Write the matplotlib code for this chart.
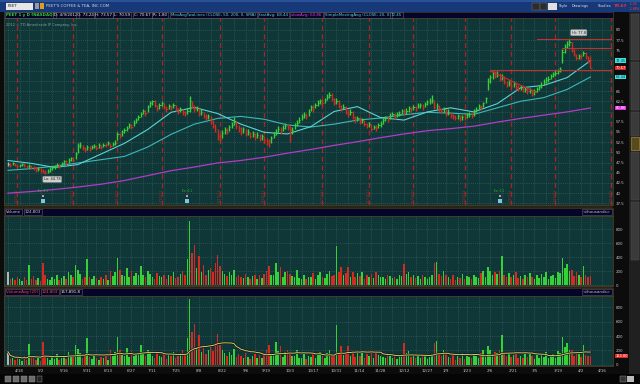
"""PEET 1 year daily chart, drawn in the thinkorswim dark style."""
import matplotlib
matplotlib.use("Agg")
import matplotlib.pyplot as plt
import matplotlib.transforms as mtransforms
import numpy as np
import pandas as pd
from matplotlib import font_manager
from matplotlib.patches import Rectangle

W, H = 640, 384

# trading calendar (bars are drawn by trading-day index)
START, END = "2011-04-11", "2012-04-20"
HOLIDAYS = ["2011-04-22", "2011-05-30", "2011-07-04", "2011-09-05", "2011-11-24",
            "2011-12-26", "2012-01-02", "2012-01-16", "2012-02-20", "2012-04-06"]

CLOSE = [
    47.2, 46.9, 47.3, 47.0, 46.6, 46.8, 47.1, 46.9, 46.5, 46.7,
    46.4, 46.2, 45.8, 46.0, 45.5, 45.3, 45.0, 45.4, 45.9, 46.2,
    46.5, 46.9, 46.6, 47.3, 47.8, 47.5, 48.1, 48.5, 48.2, 49.6,
    51.5, 51.8, 51.0, 50.6, 51.2, 50.9, 51.4, 51.5, 51.1, 51.7,
    51.3, 51.9, 51.8, 52.3, 51.6, 52.0, 52.4, 54.5, 54.1, 54.9,
    55.5, 55.9, 56.6, 56.2, 57.3, 58.0, 58.6, 59.5, 60.1, 59.6,
    61.0, 62.0, 62.5, 61.6, 60.8, 61.5, 62.0, 61.2, 60.5, 61.3,
    61.0, 61.6, 60.9, 60.0, 60.6, 59.8, 59.5, 60.2, 62.5, 61.5,
    60.5, 60.9, 59.6, 59.9, 59.0, 58.5, 58.8, 57.6, 56.5, 55.8,
    54.0, 53.2, 54.8, 55.5, 55.1, 56.2, 56.8, 57.5, 56.4, 55.9,
    55.0, 55.6, 54.5, 54.9, 54.0, 54.6, 53.8, 54.3, 53.5, 53.9,
    53.1, 52.7, 52.5, 53.6, 54.3, 55.0, 55.8, 55.2, 56.0, 56.5,
    56.2, 55.4, 55.5, 56.6, 57.2, 58.0, 58.7, 59.2, 58.8, 60.0,
    61.0, 60.6, 61.5, 62.1, 62.5, 62.0, 62.9, 63.5, 64.0, 63.1,
    62.0, 62.6, 61.4, 60.8, 61.2, 60.0, 59.4, 59.9, 58.7, 58.0,
    58.4, 57.6, 57.9, 57.0, 56.5, 56.9, 55.8, 56.2, 55.9, 56.6,
    57.0, 57.8, 58.3, 58.0, 59.0, 59.4, 58.8, 59.3, 59.5, 60.1,
    59.7, 60.2, 60.8, 60.5, 61.1, 60.7, 61.4, 61.5, 61.0, 61.9,
    62.3, 62.5, 62.9, 61.0, 61.4, 60.6, 60.2, 60.5, 59.5, 59.9,
    59.1, 58.8, 58.5, 58.9, 58.3, 58.7, 58.5, 59.1, 59.4, 59.0,
    60.0, 60.6, 61.2, 61.0, 62.0, 63.2, 67.5, 68.4, 69.5, 68.8,
    69.2, 68.0, 68.5, 67.2, 66.5, 67.0, 66.2, 66.8, 66.0, 65.6,
    66.1, 65.4, 65.5, 65.0, 65.3, 64.5, 64.9, 65.6, 66.0, 66.6,
    67.3, 67.8, 68.0, 68.7, 69.1, 69.5, 69.8, 70.5, 74.5, 75.8,
    76.5, 77.0, 75.0, 74.2, 73.0, 73.6, 73.5, 74.3, 73.5, 72.4,
    70.67,
]

HIGH = [
    47.6, 47.4, 47.6, 47.5, 47.2, 47.1, 47.5, 47.3, 47.0, 47.1,
    46.9, 46.7, 46.4, 46.4, 46.1, 45.8, 45.6, 45.8, 46.3, 46.6,
    46.9, 47.3, 47.1, 47.7, 48.2, 48.0, 48.5, 48.9, 48.7, 50.2,
    52.4, 52.6, 51.9, 51.3, 51.7, 51.5, 51.9, 52.1, 51.7, 52.2,
    51.9, 52.3, 52.3, 52.8, 52.2, 52.5, 52.9, 55.0, 54.8, 55.4,
    56.0, 56.4, 57.1, 56.9, 57.8, 58.5, 59.2, 60.0, 60.7, 60.3,
    61.5, 62.5, 62.9, 62.8, 61.7, 62.0, 62.6, 62.1, 61.3, 61.8,
    61.7, 62.0, 61.6, 60.9, 61.1, 60.6, 60.1, 60.8, 63.8, 62.6,
    61.5, 61.4, 60.8, 60.5, 60.0, 59.4, 59.5, 58.8, 57.9, 56.9,
    55.6, 54.6, 55.4, 56.1, 55.9, 56.8, 57.4, 58.7, 57.6, 56.7,
    56.1, 56.1, 55.6, 55.6, 55.0, 55.2, 54.7, 55.0, 54.4, 54.5,
    54.1, 53.6, 53.2, 54.0, 54.9, 55.6, 56.5, 56.3, 56.6, 57.3,
    57.0, 56.4, 56.2, 57.1, 57.8, 58.6, 59.3, 59.8, 59.7, 60.5,
    61.6, 61.5, 62.0, 62.7, 63.1, 63.0, 63.4, 64.2, 64.8, 64.5,
    63.4, 63.2, 62.8, 61.7, 61.8, 61.3, 60.3, 60.5, 60.1, 59.0,
    59.0, 58.6, 58.5, 58.0, 57.3, 57.5, 57.0, 56.8, 56.6, 57.1,
    57.6, 58.3, 58.9, 58.8, 59.6, 60.0, 59.7, 59.8, 60.1, 60.7,
    60.5, 60.8, 61.3, 61.2, 61.7, 61.4, 62.0, 62.1, 61.8, 62.4,
    62.9, 63.2, 64.0, 62.8, 62.0, 61.5, 60.9, 61.1, 60.6, 60.5,
    60.0, 59.5, 59.2, 59.4, 59.1, 59.2, 59.1, 59.6, 60.0, 59.8,
    60.5, 61.1, 61.8, 61.7, 62.4, 63.6, 68.2, 69.0, 70.0, 69.9,
    69.8, 69.4, 69.1, 68.7, 67.5, 67.6, 67.2, 67.4, 67.0, 66.5,
    66.6, 66.3, 66.1, 65.7, 65.8, 65.4, 65.5, 66.1, 66.5, 67.2,
    67.9, 68.4, 68.6, 69.3, 69.6, 70.1, 70.3, 71.0, 75.2, 76.6,
    77.2, 77.8, 76.9, 75.3, 74.2, 74.1, 74.2, 74.8, 74.5, 73.6,
    73.57,
]

LOW = [
    46.7, 46.5, 46.8, 46.6, 46.2, 46.3, 46.6, 46.4, 46.1, 46.2,
    46.0, 45.7, 45.3, 45.5, 45.1, 44.9, 44.78, 45.0, 45.3, 45.7,
    46.0, 46.3, 46.1, 46.7, 47.2, 47.0, 47.5, 47.9, 47.7, 48.3,
    49.8, 51.0, 50.5, 50.0, 50.6, 50.4, 50.8, 51.0, 50.6, 51.1,
    50.8, 51.2, 51.2, 51.7, 51.1, 51.5, 51.9, 53.0, 53.6, 54.0,
    54.8, 55.2, 55.9, 55.7, 56.5, 57.3, 58.0, 58.7, 59.4, 59.0,
    59.8, 61.0, 61.7, 61.0, 60.2, 60.6, 61.3, 60.6, 59.8, 60.5,
    60.4, 60.9, 60.2, 59.4, 59.9, 59.2, 58.9, 59.4, 60.0, 60.9,
    60.0, 60.1, 59.0, 59.2, 58.5, 57.9, 58.1, 57.0, 55.9, 55.0,
    53.1, 52.3, 53.5, 54.6, 54.4, 55.3, 56.0, 56.7, 55.8, 55.1,
    54.3, 54.8, 53.9, 54.2, 53.4, 53.8, 53.1, 53.6, 52.8, 53.1,
    52.3, 51.8, 51.3, 52.4, 53.5, 54.2, 55.0, 54.6, 55.2, 55.8,
    55.4, 52.5, 54.6, 55.6, 56.4, 57.2, 57.9, 58.5, 58.1, 58.9,
    60.2, 60.0, 60.8, 61.4, 61.8, 61.4, 62.2, 62.8, 63.2, 62.6,
    61.5, 61.8, 60.9, 60.1, 60.5, 59.3, 58.7, 59.2, 58.1, 57.3,
    57.6, 57.0, 57.2, 56.4, 55.9, 56.2, 55.2, 55.6, 55.2, 55.9,
    56.3, 57.0, 57.7, 57.4, 58.2, 58.8, 58.2, 58.6, 58.9, 59.4,
    59.1, 59.5, 60.0, 59.9, 60.4, 60.1, 60.8, 60.9, 60.4, 61.1,
    61.6, 61.8, 62.0, 60.6, 60.7, 60.0, 59.6, 59.8, 58.9, 59.2,
    58.5, 58.1, 57.8, 58.2, 57.6, 58.0, 57.8, 58.4, 58.7, 58.4,
    58.9, 59.8, 60.5, 60.4, 61.1, 62.0, 65.3, 66.9, 68.0, 68.1,
    68.4, 67.5, 67.7, 66.8, 65.9, 66.2, 65.6, 66.0, 65.2, 64.9,
    65.2, 64.8, 64.8, 64.3, 64.6, 63.9, 64.1, 64.8, 65.3, 65.8,
    66.5, 67.1, 67.3, 68.0, 68.5, 68.8, 69.2, 69.7, 71.8, 74.3,
    75.6, 76.0, 74.6, 73.6, 72.5, 72.8, 72.9, 73.5, 72.9, 71.9,
    70.59,
]

# daily volume, thousands of shares
VOLUME = [
    185, 80, 95, 70, 110, 85, 60, 120, 75, 285,
    90, 130, 70, 105, 60, 315, 140, 90, 75, 120,
    85, 150, 70, 95, 130, 80, 180, 140, 110, 280,
    220, 160, 90, 120, 370, 110, 85, 130, 95, 75,
    110, 90, 150, 70, 200, 130, 180, 385, 210, 140,
    130, 240, 110, 195, 130, 170, 150, 270, 150, 120,
    200, 160, 120, 90, 175, 130, 110, 150, 80, 140,
    130, 180, 95, 120, 160, 200, 150, 370, 915, 460,
    570, 250, 415, 180, 280, 150, 210, 250, 190, 310,
    430, 270, 200, 160, 130, 180, 140, 220, 110, 150,
    120, 95, 160, 110, 80, 130, 150, 90, 140, 100,
    160, 200, 270, 140, 150, 320, 190, 260, 110, 180,
    200, 160, 130, 120, 210, 100, 90, 150, 80, 120,
    110, 170, 90, 140, 180, 120, 100, 160, 200, 130,
    150, 555, 180, 260, 140, 170, 260, 120, 190, 110,
    170, 130, 180, 90, 150, 120, 160, 100, 180, 140,
    120, 110, 90, 150, 130, 100, 120, 80, 140, 130,
    300, 160, 190, 110, 140, 100, 130, 90, 150, 120,
    80, 110, 150, 310, 330, 160, 130, 200, 150, 110,
    90, 140, 70, 120, 100, 160, 80, 130, 110, 90,
    150, 120, 100, 170, 200, 110, 260, 200, 150, 180,
    160, 200, 415, 150, 120, 170, 110, 140, 180, 100,
    130, 90, 150, 110, 170, 120, 80, 140, 100, 160,
    110, 180, 90, 130, 150, 100, 190, 170, 385, 250,
    300, 200, 210, 130, 180, 150, 110, 270, 140, 120,
    124.8,
]

# moving averages, one value every 10 bars
MA_STEP = 10
SMA20 = [48.0, 47.3, 46.3, 47.0, 49.6, 52.2, 55.6, 59.8, 61.0, 59.5, 56.9, 54.9, 54.5,
         56.3, 60.0, 61.2, 58.5, 57.9, 59.9, 60.9, 59.9, 61.9, 65.8, 66.4, 68.3, 72.45]
SMA50 = [45.6, 46.0, 46.6, 47.4, 48.2, 49.0, 51.3, 54.4, 56.9, 58.3, 58.8, 58.1, 56.7,
         56.2, 56.9, 57.9, 58.4, 59.2, 59.8, 59.6, 59.3, 60.9, 62.5, 63.4, 65.4, 68.44]
SMA200 = [40.0, 40.4, 40.9, 41.5, 42.2, 43.1, 44.3, 45.5, 46.4, 47.4, 48.0, 48.8, 49.8,
          50.7, 51.7, 52.6, 53.6, 54.5, 55.3, 55.8, 56.4, 57.4, 58.3, 59.1, 59.9, 60.86]

EXPIRIES = ["2011-04-15", "2011-05-20", "2011-06-17", "2011-07-15", "2011-08-19",
            "2011-09-16", "2011-10-21", "2011-11-18", "2011-12-16", "2012-01-20",
            "2012-02-17", "2012-03-16", "2012-04-20"]
EVENTS = ["2011-05-03", "2011-08-01", "2012-02-10"]

# user drawings on the price panel: (start date, start price, end date, end price)
DRAWINGS = [
    ("2012-02-06", 70.2, "2012-04-20", 70.2),
    ("2012-02-06", 69.9, "2012-03-06", 64.6),
    ("2012-03-06", 77.8, "2012-04-20", 77.8),
    ("2012-03-21", 75.6, "2012-04-20", 75.6),
]

# last values shown as coloured boxes on the price scale
LAST_BOXES = [(72.45, "#40e0e0", "#063c3c"), (70.67, "#e02424", "#ffffff"),
              (68.44, "#40e0e0", "#063c3c"), (60.86, "#e030e0", "#ffffff")]

PANEL = "#0f3737"
GRID = "#4f7070"
EDGE = "#4b3d26"
UP, DOWN = "#38d038", "#d42a22"
CYAN, CYAN2, MAGENTA = "#5ad4d4", "#3cb8b8", "#b23cc4"
LABEL = "#c4c4c4"

names = {f.name for f in font_manager.fontManager.ttflist}
if "Liberation Sans Narrow" in names:
    FONT, FS = "Liberation Sans Narrow", 3.6
else:
    FONT, FS = "DejaVu Sans", 2.9
plt.rcParams["font.family"] = FONT


def rect(x0, y0, x1, y1):
    return [x0 / W, 1 - y1 / H, (x1 - x0) / W, (y1 - y0) / H]


def fbox(fig, x0, y0, x1, y1, color, ec="none", lw=0.0):
    fig.add_artist(Rectangle((x0 / W, 1 - y1 / H), (x1 - x0) / W, (y1 - y0) / H,
                             transform=fig.transFigure, facecolor=color,
                             edgecolor=ec, lw=lw, zorder=0))


def ftext(fig, x, y, s, color=LABEL, size=FS, box=False, **kw):
    bbox = None
    if box:
        bbox = dict(boxstyle="square,pad=0.3", fc="none", ec="#5e5e5e", lw=0.4)
    fig.text(x / W, 1 - y / H, s, color=color, fontsize=size, va="center",
             bbox=bbox, **kw)


# calendar
days = pd.bdate_range(START, END)
days = days[~days.isin(pd.to_datetime(HOLIDAYS))]
pos = {d: i for i, d in enumerate(days)}
week = (days - days[0]).days // 7
week_first = [i for i in range(len(days)) if i == 0 or week[i] != week[i - 1]]
tick_idx = [i for i in week_first if week[i] % 2 == 1]
tick_lbl = [f"{days[i].month}/{days[i].day}" for i in tick_idx]

idx = np.arange(len(CLOSE))
close = np.array(CLOSE)
bar_colors = np.where(np.r_[True, close[1:] >= close[:-1]], UP, DOWN).astype(object)
bar_colors[0] = "#b4b4b4"
ma_x = np.arange(len(SMA20)) * MA_STEP
XLIM = (-1.7, 259.7)

fig = plt.figure(figsize=(W / 100, H / 100), dpi=100)
fig.patch.set_facecolor("#0c0c0c")

# window chrome
fbox(fig, 0, 0, 640, 12, "#17397a")
fbox(fig, 0, 0, 640, 2, "#2a5298")
fbox(fig, 6, 2.5, 33, 9.5, "#e6e6e6")
ftext(fig, 8, 6, "PEET", color="#202020")
fbox(fig, 35, 3, 39, 9, "#9a9a9a")
fbox(fig, 40, 3, 44, 9, "#d8a020")
ftext(fig, 46, 6, "PEET'S COFFEE & TEA, INC COM", color="#d6d6d6")
for x0, x1 in [(532, 540), (540, 547)]:
    fbox(fig, x0, 3, x1, 9.5, "#2c2c2c", ec="#777777", lw=0.3)
fbox(fig, 548, 3, 557, 9.5, "#e0e0e0")
ftext(fig, 559, 6, "Style", color="#e0e0e0", size=FS - 0.3)
ftext(fig, 572, 6, "Drawings", color="#e0e0e0", size=FS - 0.3)
ftext(fig, 611, 6, "Studies", color="#e0e0e0", size=FS - 0.3, ha="right")
ftext(fig, 613.5, 6, "70.67", color="#ff3030", size=FS + 0.2, weight="bold")
ftext(fig, 629.5, 4, "-1.30", color="#ff4040", size=FS - 0.8)
ftext(fig, 629.5, 8.5, "-1.84%", color="#ff4040", size=FS - 0.8)

# right sidebar and bottom toolbar
fbox(fig, 629, 12, 640, 374, "#202020")
for y0, y1 in [(14, 60), (62, 110), (112, 136), (152, 200), (202, 260)]:
    fbox(fig, 631, y0, 639, y1, "#3a3a3a", ec="#555555", lw=0.3)
fbox(fig, 631, 137, 639, 150, "#5a4a1c", ec="#b89a40", lw=0.4)
fbox(fig, 0, 374, 640, 384, "#050505")
for x0 in [5, 13, 21, 29]:
    fbox(fig, x0, 376, x0 + 6, 382, "#6a6a6a", ec="#999999", lw=0.3)
fbox(fig, 37, 376, 42, 382, "#222222", ec="#999999", lw=0.3)
fbox(fig, 620, 376, 626, 382, "#333333", ec="#999999", lw=0.3)
fbox(fig, 627, 376, 634, 382, "#bbbbbb")

# header strips
for y0, y1 in [(12, 18), (208, 215.5), (288, 295.5)]:
    fbox(fig, 4, y0, 613, y1, "#05052a", ec=EDGE, lw=0.5)
fbox(fig, 4, 205, 613, 208, "#2a2416")
fbox(fig, 4, 286, 613, 288, "#2a2416")

ftext(fig, 6, 15, "PEET 1 y D [NASDAQ]", color="#30d030", box=True, weight="bold")
for x, s in [(54, "D: 4/9/2012"), (77, "O: 73.24"), (95, "H: 73.57"),
             (114, "L: 70.59"), (134, "C: 70.67"), (153, "R: 1.80")]:
    ftext(fig, x, 15, s, color="#e8e8e8", box=True)
ftext(fig, 171, 15, "MovAvgTwoLines (CLOSE, 50, 200, 0, SMA)", color=CYAN, box=True)
ftext(fig, 259, 15, "fastAvg: 68.44", color=CYAN, box=True)
ftext(fig, 291, 15, "slowAvg: 60.86", color="#e040e0", box=True)
ftext(fig, 325, 15, "SimpleMovingAvg (CLOSE, 20, 0)", color=CYAN, box=True)
ftext(fig, 391, 15, "72.45", color=CYAN, box=True)

ftext(fig, 6, 212, "Volume", box=True)
ftext(fig, 25, 212, "124,803", box=True)
ftext(fig, 6, 292, "VolumeAvg (20)", color="#ff4040", box=True)
ftext(fig, 42, 292, "124,803", color="#ff4040", box=True)
ftext(fig, 61, 292, "157,891.8", color="#f0f0c0", box=True)
for y in (212, 292):
    ftext(fig, 611, y, "<thousands>", box=True, ha="right")


def style_panel(ax, yticks, fmt, hidden=()):
    ax.set_facecolor(PANEL)
    ax.set_xlim(*XLIM)
    for s in ax.spines.values():
        s.set_color(EDGE)
        s.set_linewidth(0.6)
    ax.yaxis.tick_right()
    ax.set_yticks(yticks)
    # labels hidden under the last-value boxes are left blank
    ax.set_yticklabels(["" if any(abs(v - h) < 1.0 for h in hidden) else fmt(v)
                        for v in yticks])
    ax.tick_params(axis="y", length=0, pad=2, labelsize=FS, labelcolor=LABEL)
    ax.set_xticks([])
    for v in yticks:
        ax.axhline(v, color=GRID, lw=0.45, ls=(0, (1, 2)), zorder=0.5)
    for i in week_first:
        ax.axvline(i, color=GRID, lw=0.45, ls=(0, (1, 2)), zorder=0.5)


# price panel
ax_p = fig.add_axes(rect(4, 18, 613, 205))
price_ticks = np.arange(37.5, 80.1, 2.5)
style_panel(ax_p, price_ticks, lambda v: f"{v:g}",
            hidden=[b[0] for b in LAST_BOXES])
ax_p.set_ylim(37.1, 82.9)

for d in EXPIRIES:
    i = pos[pd.Timestamp(d)]
    ax_p.axvline(i, color="#a82424", lw=0.9, ls=(0, (4, 3)), zorder=1)
    t = pd.Timestamp(d)
    ax_p.text(i, 39.6, f"{t.month}/{t.day}/{t.year % 100}", rotation=90,
              color="#a02828", fontsize=FS - 0.4, ha="center", va="center", zorder=1)

ax_p.plot(ma_x, SMA200, color=MAGENTA, lw=0.9, zorder=2)
ax_p.plot(ma_x, SMA50, color=CYAN2, lw=0.8, zorder=2)
ax_p.plot(ma_x, SMA20, color=CYAN, lw=0.8, zorder=2)

ax_p.vlines(idx, LOW, HIGH, colors=list(bar_colors), lw=1.0, zorder=3)
ax_p.hlines(CLOSE, idx, idx + 0.5, colors=list(bar_colors), lw=0.7, zorder=3)

for d0, p0, d1, p1 in DRAWINGS:
    ax_p.plot([pos[pd.Timestamp(d0)], pos[pd.Timestamp(d1)]], [p0, p1],
              color="#c23030", lw=0.8, zorder=4, clip_on=False)

bubble = dict(boxstyle="round,pad=0.3", fc="#cfcfcf", ec="#8a8a8a", lw=0.4)
ax_p.text(245, 79.3, "Hi: 77.8", fontsize=FS - 0.3, color="#202020",
          ha="center", va="center", bbox=bubble, zorder=5)
ax_p.text(19, 43.4, "Lo: 44.78", fontsize=FS - 0.3, color="#202020",
          ha="center", va="center", bbox=bubble, zorder=5)

for d in EVENTS:
    i = pos[pd.Timestamp(d)]
    ax_p.text(i, 40.6, "Ex: 0.1", color="#30c030", fontsize=FS - 0.8,
              ha="center", va="center", zorder=5)
    ax_p.scatter([i], [39.4], marker="s", s=4, color="#e08aa0", zorder=5, lw=0)
    ax_p.scatter([i], [38.0], marker="s", s=5, color="#7ac8e8", zorder=5, lw=0)

ax_p.text(0.003, 0.975, "2012 \u00a9 TD Ameritrade IP Company, Inc.",
          transform=ax_p.transAxes, color="#8ca0a0", fontsize=FS - 0.4,
          ha="left", va="top")

blend = mtransforms.blended_transform_factory(ax_p.transAxes, ax_p.transData)
for val, fc, tc in LAST_BOXES:
    ax_p.text(1.004, val, f"{val:.2f}", transform=blend, fontsize=FS - 0.3,
              color=tc, ha="left", va="center", zorder=6,
              bbox=dict(boxstyle="square,pad=0.1", fc=fc, ec="none"))

# volume panel
vol_ticks = [0, 200, 400, 600, 800]
ax_v = fig.add_axes(rect(4, 216, 613, 286))
style_panel(ax_v, vol_ticks, lambda v: f"{v}")
ax_v.set_ylim(-14, 986)
ax_v.bar(idx, VOLUME, width=0.65, color=list(bar_colors), zorder=3)

# volume + average panel
ax_a = fig.add_axes(rect(4, 296, 613, 366))
style_panel(ax_a, vol_ticks, lambda v: f"{v}")
ax_a.set_ylim(-14, 952)
ax_a.bar(idx, VOLUME, width=0.65, color=list(bar_colors), zorder=3)
vol_avg = pd.Series(VOLUME).rolling(20, min_periods=1).mean()
ax_a.plot(idx, vol_avg, color="#101010", lw=1.6, zorder=4)
ax_a.plot(idx, vol_avg, color="#d6cc6a", lw=0.7, zorder=5)
blend_a = mtransforms.blended_transform_factory(ax_a.transAxes, ax_a.transData)
ax_a.text(1.004, VOLUME[-1], "124.80", transform=blend_a, fontsize=FS - 0.3,
          color="#ffffff", ha="left", va="center", zorder=6,
          bbox=dict(boxstyle="square,pad=0.1", fc="#e02424", ec="none"))

ax_a.set_xticks(tick_idx)
ax_a.set_xticklabels(tick_lbl)
ax_a.tick_params(axis="x", length=0, pad=2.5, labelsize=FS, labelcolor=LABEL)

fig.savefig("out.png", dpi=100, facecolor=fig.get_facecolor())
